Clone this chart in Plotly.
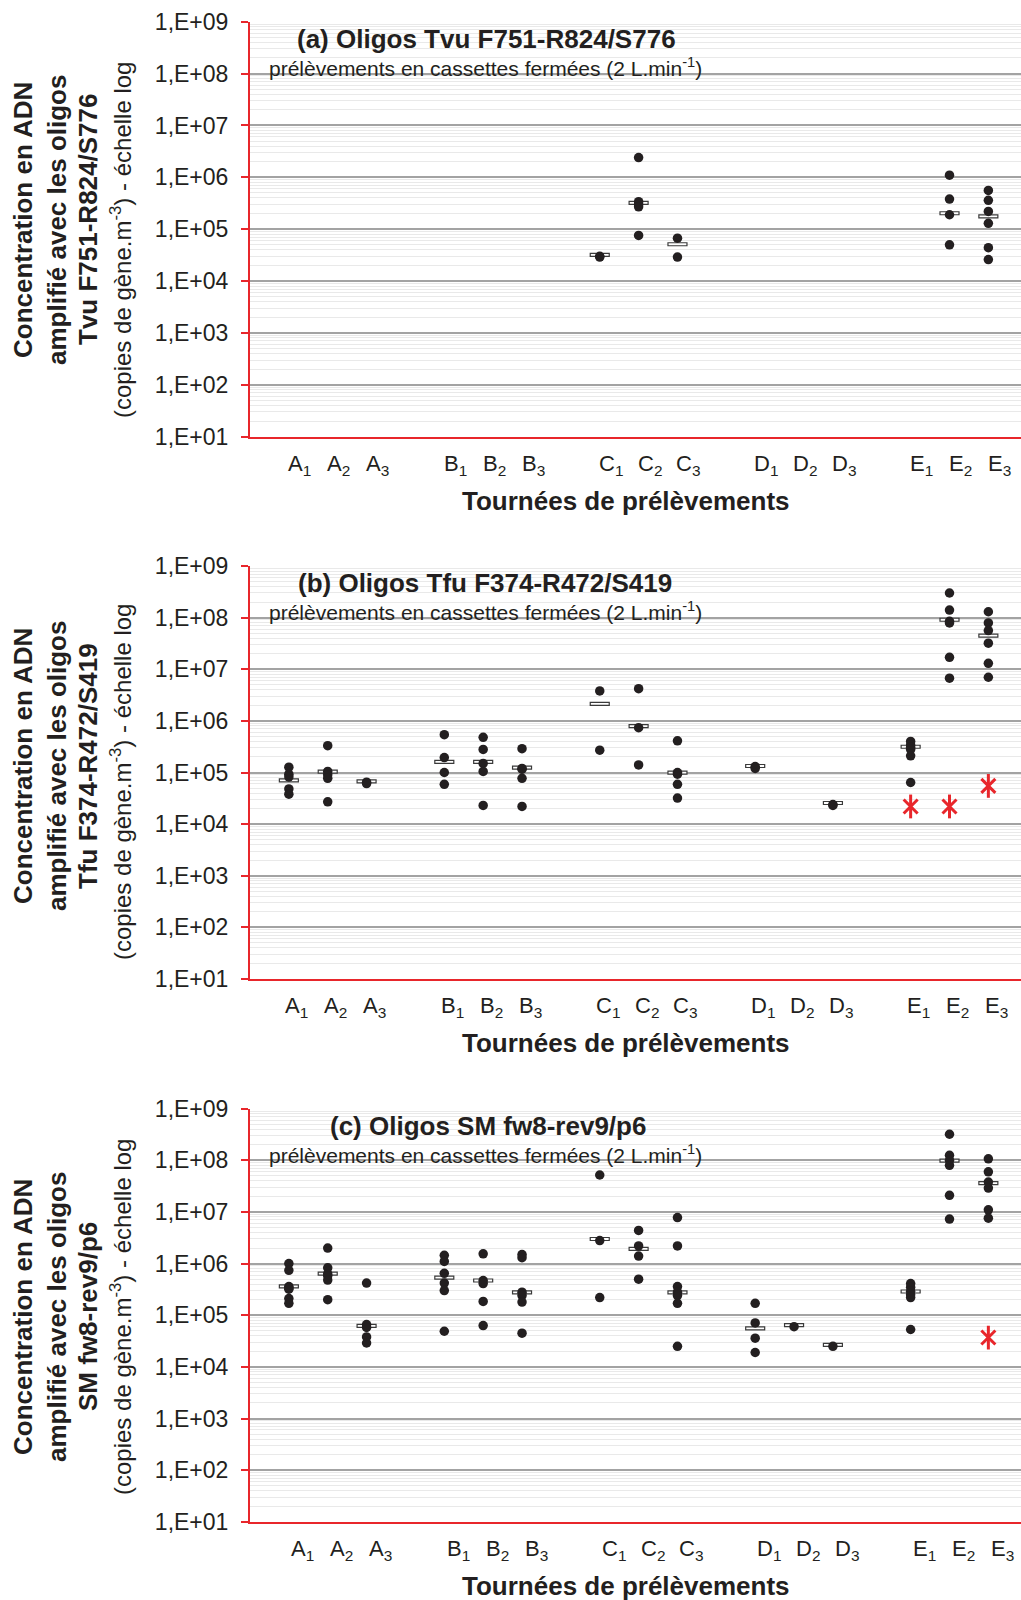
import plotly.graph_objects as go

# ---------------- data ----------------
categories = ["A1", "A2", "A3", "B1", "B2", "B3", "C1", "C2", "C3",
              "D1", "D2", "D3", "E1", "E2", "E3"]
category_labels = ["A<sub>1</sub>", "A<sub>2</sub>", "A<sub>3</sub>",
                   "B<sub>1</sub>", "B<sub>2</sub>", "B<sub>3</sub>",
                   "C<sub>1</sub>", "C<sub>2</sub>", "C<sub>3</sub>",
                   "D<sub>1</sub>", "D<sub>2</sub>", "D<sub>3</sub>",
                   "E<sub>1</sub>", "E<sub>2</sub>", "E<sub>3</sub>"]
tick_values = [1e1, 1e2, 1e3, 1e4, 1e5, 1e6, 1e7, 1e8, 1e9]
tick_labels = ["1,E+01", "1,E+02", "1,E+03", "1,E+04", "1,E+05",
               "1,E+06", "1,E+07", "1,E+08", "1,E+09"]

panel_titles = ["(a) Oligos Tvu F751-R824/S776",
                "(b) Oligos Tfu F374-R472/S419",
                "(c) Oligos SM fw8-rev9/p6"]
oligo_names = ["Tvu F751-R824/S776", "Tfu F374-R472/S419", "SM fw8-rev9/p6"]
subtitle = "prélèvements en cassettes fermées (2 L.min<sup>-1</sup>)"
x_title = "Tournées de prélèvements"

# panel (a)
points_a = {
    "C1": [3.0e4, 2.9e4],
    "C2": [2.4e6, 3.4e5, 3.0e5, 2.7e5, 7.6e4],
    "C3": [6.7e4, 2.9e4],
    "E2": [1.1e6, 3.8e5, 1.9e5, 5.0e4],
    "E3": [5.6e5, 3.6e5, 2.2e5, 1.3e5, 4.4e4, 2.6e4],
}
medians_a = {"C1": 3.0e4, "C2": 3.0e5, "C3": 4.8e4, "E2": 1.9e5, "E3": 1.65e5}
stars_a = {}

# panel (b)
points_b = {
    "A1": [1.27e5, 9.3e4, 8.2e4, 4.8e4, 3.8e4],
    "A2": [3.3e5, 1.05e5, 9.0e4, 7.7e4, 2.7e4],
    "A3": [6.5e4, 6.1e4],
    "B1": [5.4e5, 1.95e5, 1.0e5, 5.9e4],
    "B2": [4.8e5, 2.8e5, 1.5e5, 1.05e5, 2.3e4],
    "B3": [2.9e5, 1.2e5, 1.16e5, 7.7e4, 2.2e4],
    "C1": [3.8e6, 2.7e5],
    "C2": [4.2e6, 7.4e5, 1.4e5],
    "C3": [4.1e5, 1.0e5, 9.3e4, 5.9e4, 3.2e4],
    "D1": [1.3e5, 1.2e5],
    "D3": [2.4e4, 2.3e4],
    "E1": [4.0e5, 3.4e5, 3.1e5, 2.8e5, 2.1e5, 6.4e4],
    "E2": [3.0e8, 1.4e8, 8.5e7, 7.9e7, 1.7e7, 6.7e6],
    "E3": [1.3e8, 7.9e7, 5.6e7, 3.2e7, 1.3e7, 7.0e6],
}
medians_b = {"A1": 6.6e4, "A2": 9.7e4, "A3": 6.3e4, "B1": 1.5e5, "B2": 1.5e5,
             "B3": 1.16e5, "C1": 2.0e6, "C2": 7.4e5, "C3": 9.3e4, "D1": 1.25e5,
             "D3": 2.4e4, "E1": 2.95e5, "E2": 8.5e7, "E3": 4.2e7}
stars_b = {"E1": 2.2e4, "E2": 2.2e4, "E3": 5.5e4}

# panel (c)
points_c = {
    "A1": [1.0e6, 7.4e5, 3.6e5, 3.4e5, 3.2e5, 2.1e5, 1.7e5],
    "A2": [2.0e6, 8.3e5, 6.3e5, 5.8e5, 4.8e5, 2.0e5],
    "A3": [4.2e5, 6.6e4, 5.8e4, 3.8e4, 2.9e4],
    "B1": [1.45e6, 1.1e6, 6.5e5, 4.2e5, 3.0e5, 4.9e4],
    "B2": [1.55e6, 4.7e5, 4.1e5, 1.85e5, 6.3e4],
    "B3": [1.5e6, 1.3e6, 2.8e5, 2.4e5, 1.8e5, 4.5e4],
    "C1": [5.2e7, 2.8e6, 2.2e5],
    "C2": [4.4e6, 2.2e6, 1.4e6, 5.0e5],
    "C3": [7.8e6, 2.2e6, 3.6e5, 2.8e5, 2.4e5, 1.7e5, 2.5e4],
    "D1": [1.7e5, 7.1e4, 3.6e4, 1.9e4],
    "D2": [6.0e4],
    "D3": [2.5e4],
    "E1": [4.1e5, 3.5e5, 2.9e5, 2.5e5, 2.2e5, 5.3e4],
    "E2": [3.2e8, 1.25e8, 1.0e8, 8.0e7, 2.1e7, 7.3e6],
    "E3": [1.07e8, 6.0e7, 3.8e7, 2.9e7, 1.1e7, 7.6e6],
}
medians_c = {"A1": 3.4e5, "A2": 6.0e5, "A3": 5.8e4, "B1": 5.0e5, "B2": 4.4e5,
             "B3": 2.6e5, "C1": 2.8e6, "C2": 1.8e6, "C3": 2.6e5, "D1": 5.2e4,
             "D2": 6.0e4, "D3": 2.5e4, "E1": 2.7e5, "E2": 9.2e7, "E3": 3.4e7}
stars_c = {"E3": 3.7e4}

# ---------------- layout helpers ----------------
W, H = 1021, 1600
RED = "#e8262b"
INK = "#231f20"
FONT = "Arial, Liberation Sans, sans-serif"

panels = [
    dict(points=points_a, medians=medians_a, stars=stars_a, top=21.7, bottom=436.7,
         title_x=486, label_shift=11, bold_c=220, norm_c=240),
    dict(points=points_b, medians=medians_b, stars=stars_b, top=566.0, bottom=979.0,
         title_x=485, label_shift=8, bold_c=766, norm_c=782),
    dict(points=points_c, medians=medians_c, stars=stars_c, top=1108.7, bottom=1521.8,
         title_x=488, label_shift=14, bold_c=1317, norm_c=1317),
]


def slot(cat):
    return "ABCDE".index(cat[0]) * 4 + int(cat[1]) - 1


def px(x):
    return x / W


def py(y):
    return 1 - y / H


fig = go.Figure()
shapes = []
annotations = []
layout_axes = {}

for i, p in enumerate(panels):
    n = "" if i == 0 else str(i + 1)
    xa, ya = "x" + n, "y" + n
    layout_axes["xaxis" + n] = dict(
        domain=[px(250), 1], range=[-1.0, 18.84], anchor=ya,
        showgrid=False, zeroline=False, showticklabels=False, ticks="",
        showline=True, linecolor=RED, linewidth=2, fixedrange=True)
    layout_axes["yaxis" + n] = dict(
        domain=[py(p["bottom"]), py(p["top"])], type="log", range=[1, 9],
        anchor=xa, tickvals=tick_values, ticktext=tick_labels,
        tickfont=dict(size=23, color=INK, family=FONT),
        ticks="outside", ticklen=7, tickwidth=2, tickcolor=RED,
        ticklabelstandoff=8,
        showline=True, linecolor=RED, linewidth=2,
        showgrid=True, gridcolor="#a3a3a3", gridwidth=1.5,
        minor=dict(dtick="D1", showgrid=True, gridcolor="#e9e9e9", gridwidth=1.2, ticks=""),
        zeroline=False, fixedrange=True)

    xs, ys = [], []
    for cat, vals in p["points"].items():
        for v in vals:
            xs.append(slot(cat))
            ys.append(v)
    fig.add_trace(go.Scatter(x=xs, y=ys, mode="markers", xaxis=xa, yaxis=ya,
                             marker=dict(color=INK, size=9.5, line=dict(width=0)),
                             showlegend=False, hoverinfo="skip"))

    if p["stars"]:
        sx = [slot(c) for c in p["stars"]]
        sy = list(p["stars"].values())
        for sym, sz in (("x-thin-open", 14), ("line-ns-open", 17)):
            fig.add_trace(go.Scatter(x=sx, y=sy, mode="markers", xaxis=xa, yaxis=ya,
                                     marker=dict(symbol=sym, size=sz, color=RED,
                                                 line=dict(color=RED, width=3)),
                                     showlegend=False, hoverinfo="skip"))

    for cat, m in p["medians"].items():
        shapes.append(dict(type="rect", xref=xa, yref=ya, layer="between",
                           xsizemode="pixel", ysizemode="pixel",
                           xanchor=slot(cat), yanchor=m,
                           x0=-9.5, x1=9.5, y0=-3, y1=3,
                           fillcolor="white", line=dict(color="#3a3a3a", width=1.2)))

    # category labels
    for cat, lab in zip(categories, category_labels):
        annotations.append(dict(x=slot(cat), xref=xa, y=py(p["bottom"] + 28), yref="paper",
                                text=lab, showarrow=False, xshift=p["label_shift"],
                                xanchor="center", yanchor="middle",
                                font=dict(size=22, color=INK, family=FONT)))
    # x title
    annotations.append(dict(x=px(626), y=py(p["bottom"] + 64), xref="paper", yref="paper",
                            text="<b>" + x_title + "</b>", showarrow=False,
                            xanchor="center", yanchor="middle",
                            font=dict(size=26, color=INK, family=FONT)))
    # panel title + subtitle
    annotations.append(dict(x=px(p["title_x"]), y=py(p["top"] + 17), xref="paper", yref="paper",
                            text="<b>" + panel_titles[i] + "</b>", showarrow=False,
                            xanchor="center", yanchor="middle",
                            font=dict(size=26, color=INK, family=FONT)))
    annotations.append(dict(x=px(485), y=py(p["top"] + 45), xref="paper", yref="paper",
                            text=subtitle, showarrow=False,
                            xanchor="center", yanchor="middle",
                            font=dict(size=21, color=INK, family=FONT)))
    # y title lines
    ylines = [("<b>Concentration en ADN</b>", 23, 26, p["bold_c"]),
              ("<b>amplifié avec les oligos</b>", 57, 26, p["bold_c"]),
              ("<b>" + oligo_names[i] + "</b>", 88, 26, p["bold_c"]),
              ("(copies de gène.m<sup>-3</sup>) - échelle log", 121, 24, p["norm_c"])]
    for txt, xx, fs, yc in ylines:
        annotations.append(dict(x=px(xx), y=py(yc), xref="paper", yref="paper",
                                text=txt, showarrow=False, textangle=-90,
                                xanchor="center", yanchor="middle",
                                font=dict(size=fs, color=INK, family=FONT)))

fig.update_layout(
    width=W, height=H,
    margin=dict(l=0, r=0, t=0, b=0, pad=0, autoexpand=False),
    paper_bgcolor="white", plot_bgcolor="white",
    font=dict(family=FONT, color=INK),
    shapes=shapes, annotations=annotations,
    showlegend=False,
    **layout_axes,
)

fig.write_html("out.html", config={"displayModeBar": False},
               post_script="document.body.style.margin='0';document.body.style.overflow='hidden';")
